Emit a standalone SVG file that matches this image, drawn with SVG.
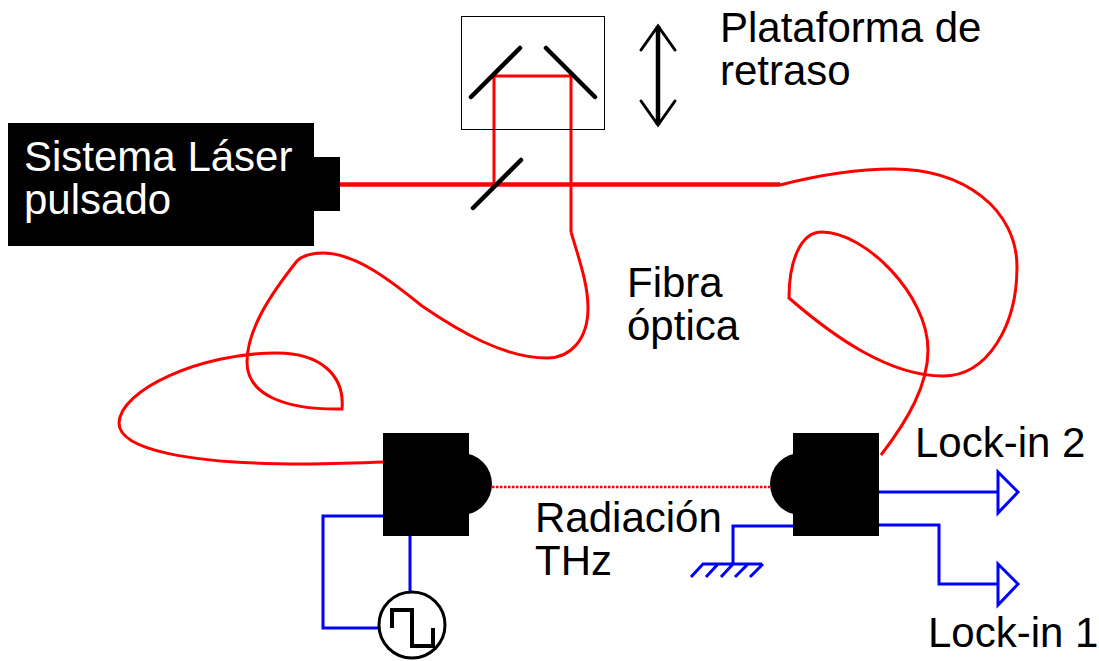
<svg xmlns="http://www.w3.org/2000/svg" width="1099" height="661" viewBox="0 0 1099 661">
<style>
text{font-family:"Liberation Sans",Arial,sans-serif;font-size:42px;fill:#000}
.r{fill:none;stroke:#f00;stroke-width:3}
.b{fill:none;stroke:#00f;stroke-width:3}
.k{fill:none;stroke:#000;stroke-width:4.500;stroke-linecap:round}
</style>
<rect width="1099" height="661" fill="#fff"/>
<g id="connectors">
<path class="r" d="M340 184.500H780" style="stroke-width:4.500"/>
<path class="r" d="M494 184V76H571V232"/>
<path class="r" d="M571 232C580 262 588 285 588 308C588 340 570 358 547 358C505 358 460 332 422 306C390 280 355 253 323 253C312 253 303 255 297 261C270 295 247 330 247 362C247 395 285 410 342 409C345 375 320 353 277 353C200 353 120 390 119 423C119 450 190 464 303 464C330 464 355 463 383 462"/>
<path class="r" d="M780 185C815 176 855 169 893 169C965 169 1017 210 1017 267C1017 325 988 376 943 376C890 376 835 338 789 298C789 262 800 232 822 232C865 232 928 295 928 350C928 385 908 420 881 455"/>
<path class="r" d="M492 487H770" stroke-dasharray="2.500 1.500" style="stroke-width:2.500"/>
<path class="b" d="M384 516H323V628H379"/>
<path class="b" d="M410 536V594"/>
<path class="b" d="M793 526H733V564"/>
<path class="b" d="M702 564H762M691 577L703 564M706 577L718 564M721 577L733 564M735 577L748 564M750 577L763 564"/>
<path class="b" d="M879 492H998"/>
<path class="b" d="M998 472L1018 492L998 513Z"/>
<path class="b" d="M879 525H939V584H998"/>
<path class="b" d="M998 564L1018 584L998 605Z"/>
</g>
<g id="laser">
<rect x="8" y="123" width="306" height="123" fill="#000"/>
<rect x="312" y="157" width="28" height="54" fill="#000"/>
<text x="24" y="171" style="fill:#fff">Sistema Láser</text>
<text x="24" y="214" style="fill:#fff">pulsado</text>
</g>
<g id="delay-stage">
<rect x="461.500" y="16.500" width="143" height="113" fill="none" stroke="#000" stroke-width="1"/>
<path class="k" d="M471 97L520 48M546 48L595 97M473 208L521 160"/>
<path d="M658 26V125" stroke="#000" stroke-width="4.500" fill="none"/>
<path d="M641 50L658 26L675 50M641 101L658 125L675 101" stroke="#000" stroke-width="3" fill="none" stroke-linecap="round" stroke-linejoin="miter"/>
<text x="720" y="42">Plataforma de</text>
<text x="720" y="85">retraso</text>
</g>
<g id="emitter">
<circle cx="461" cy="484" r="31" fill="#000"/>
<rect x="383" y="433" width="86" height="103" fill="#000"/>
</g>
<g id="detector">
<circle cx="801" cy="484" r="31" fill="#000"/>
<rect x="793" y="433" width="86" height="103" fill="#000"/>
</g>
<g id="source">
<circle cx="412" cy="625" r="33" fill="#fff" stroke="#000" stroke-width="3"/>
<path d="M392 628V610H412V646H433V628" fill="none" stroke="#000" stroke-width="4"/>
</g>
<g id="labels">
<text x="627" y="297">Fibra</text>
<text x="627" y="340">óptica</text>
<text x="535" y="532">Radiación</text>
<text x="535" y="575">THz</text>
<text x="915" y="457">Lock-in 2</text>
<text x="928" y="647">Lock-in 1</text>
</g>
</svg>
